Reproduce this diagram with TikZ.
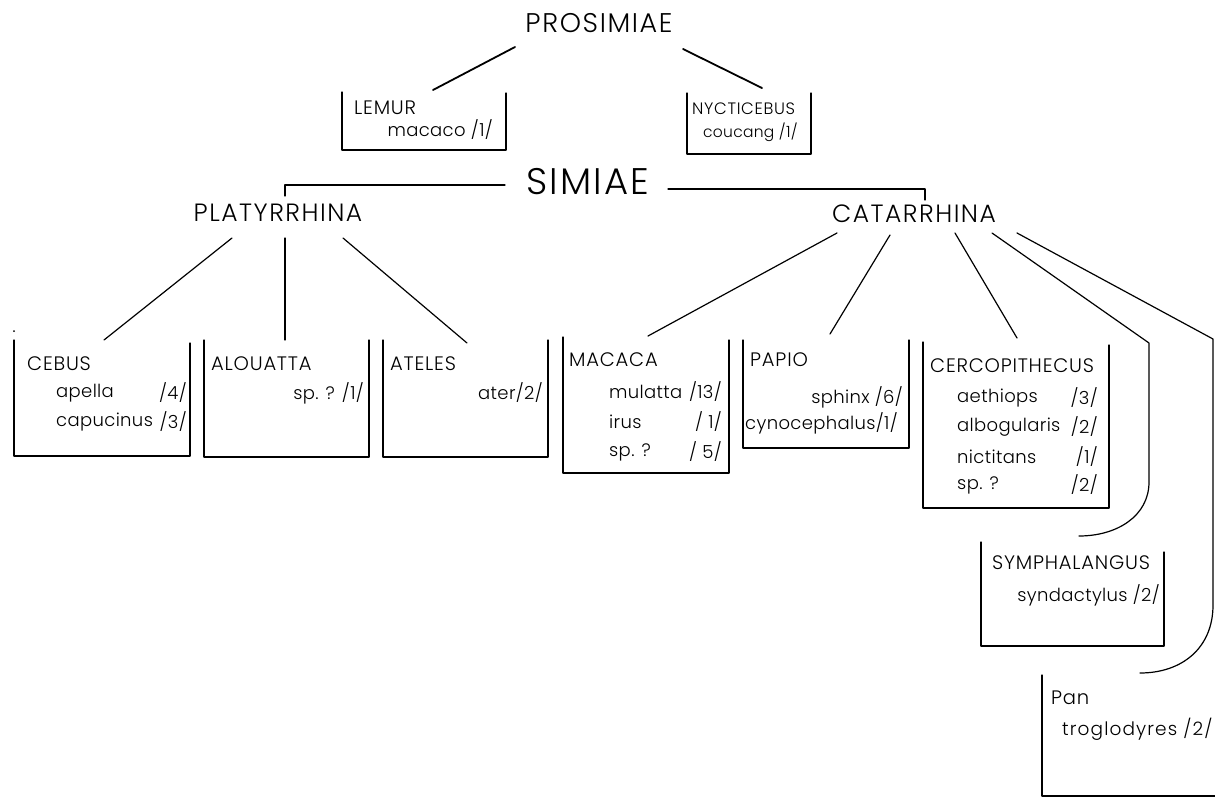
\documentclass[tikz,border=0pt]{standalone}
\usepackage{fontspec}
\IfFontExistsTF{Poppins Light}{\def\pfam{Poppins Light}}{\def\pfam{Poppins}}
\setmainfont{\pfam}
\newfontfamily\bigf[LetterSpace=6]{\pfam}
\newfontfamily\genf[LetterSpace=4]{\pfam}
\newfontfamily\spf[LetterSpace=2]{\pfam}
\newfontfamily\spwf[LetterSpace=6]{\pfam}
\begin{document}
\begin{tikzpicture}[x=1pt,y=-1pt,line cap=round,line join=round,
  conn/.style={line width=1.2pt},
  boxline/.style={line width=1.1pt},
  top/.style={font=\bigf\fontsize{27}{27}\selectfont,inner sep=0pt},
  mid/.style={font=\bigf\fontsize{25}{25}\selectfont,inner sep=0pt},
  huge/.style={font=\bigf\fontsize{37}{37}\selectfont,inner sep=0pt},
  genus/.style={font=\genf\fontsize{19.5}{19.5}\selectfont,inner sep=0pt,anchor=west},
  spl/.style={font=\spf\fontsize{18}{18}\selectfont,inner sep=0pt,anchor=west},
  spr/.style={font=\spf\fontsize{18}{18}\selectfont,inner sep=0pt,anchor=east}]
\useasboundingbox (0,0) rectangle (1215,798);
\fill[white] (0,0) rectangle (1215,798);

% ---------- top level ----------
\node[top] (pro) at (599,23) {PROSIMIAE};
\coordinate (proL) at (515,47);
\coordinate (proR) at (683,49);
\coordinate (lemT) at (433,90);
\coordinate (nycT) at (762,88);
\draw[line width=1.8pt] (proL) -- (lemT);
\draw[line width=1.8pt] (proR) -- (nycT);

% LEMUR
\draw[boxline] (342,92) -- (342,150) -- (506,150) -- (506,93);
\node[genus] (lemur) at (354,108) {LEMUR};
\node[spr] (lemsp) at (493,130) {macaco /1/};
% NYCTICEBUS
\draw[boxline] (687,93) -- (687,154) -- (811,154) -- (811,93);
\node[genus,font=\genf\fontsize{16.5}{16.5}\selectfont] (nyc) at (692,109) {NYCTICEBUS};
\node[spr,font=\spf\fontsize{15.5}{15.5}\selectfont] (nycsp) at (798,132) {coucang /1/};

% ---------- SIMIAE ----------
\node[huge] (sim) at (588,182) {SIMIAE};
\coordinate (bl1) at (505,185);
\coordinate (bl2) at (285,185);
\coordinate (bl3) at (285,196);
\coordinate (br1) at (668,189);
\coordinate (br2) at (925,189);
\coordinate (br3) at (925,200);
\draw[conn] (bl1) -- (bl2) -- (bl3);
\draw[conn] (br1) -- (br2) -- (br3);

\node[mid] (pla) at (278,213) {PLATYRRHINA};
\node[mid] (cat) at (914,214) {CATARRHINA};

% ---------- PLATYRRHINA branches ----------
\coordinate (pa1) at (232,238); \coordinate (cebT) at (104,340);
\coordinate (pa2) at (285,238); \coordinate (aloT) at (285,340);
\coordinate (pa3) at (343,238); \coordinate (ateT) at (467,343);
\draw[conn] (pa1) -- (cebT);
\draw[conn] (pa2) -- (aloT);
\draw[conn] (pa3) -- (ateT);

% CEBUS
\fill (14,331) circle (1pt);
\draw[boxline] (14,340) -- (14,456) -- (190,456) -- (190,343);
\node[genus] (ceb) at (27,364) {CEBUS};
\node[spl] (ceb1) at (56,393) {apella};
\node[spr] (ceb1n) at (187,393) {/4/};
\node[spl] (ceb2) at (56,422) {capucinus};
\node[spr] (ceb2n) at (187,422) {/3/};
% ALOUATTA
\draw[boxline] (204,340) -- (204,457) -- (369,457) -- (369,340);
\node[genus] (alo) at (211,364) {ALOUATTA};
\node[spr] (alo1) at (364,393) {sp. ? /1/};
% ATELES
\draw[boxline] (383,340) -- (383,457) -- (548,457) -- (548,340);
\node[genus] (ate) at (390,364) {ATELES};
\node[spr] (ate1) at (543,393) {ater/2/};

% ---------- CATARRHINA branches ----------
\coordinate (ca1) at (837,233); \coordinate (macT) at (648,336);
\coordinate (ca2) at (890,235); \coordinate (papT) at (830,334);
\coordinate (ca3) at (955,233); \coordinate (cerT) at (1017,338);
\coordinate (ca4) at (992,233); \coordinate (syk) at (1149,343);
\coordinate (symT) at (1079,536);
\coordinate (ca5) at (1017,233); \coordinate (pnk) at (1213,339);
\coordinate (panT) at (1140,673);
\draw[conn] (ca1) -- (macT);
\draw[conn] (ca2) -- (papT);
\draw[conn] (ca3) -- (cerT);
\draw[conn] (ca4) -- (syk) -- (1149,482) .. controls (1149,516) and (1117,536) .. (symT);
\draw[conn] (ca5) -- (pnk) -- (1213,605) .. controls (1213,648) and (1182,673) .. (panT);

% MACACA
\draw[boxline] (563,337) -- (563,473) -- (729,473) -- (729,340);
\node[genus] (mac) at (569,360) {MACACA};
\node[spl] (mac1) at (609,392) {mulatta};
\node[spr] (mac1n) at (722,392) {/13/};
\node[spl] (mac2) at (609,422) {irus};
\node[spr] (mac2n) at (722,422) {/ 1/};
\node[spl] (mac3) at (609,452) {sp. ?};
\node[spr] (mac3n) at (722,452) {/ 5/};
% PAPIO
\draw[boxline] (743,340) -- (743,448) -- (909,448) -- (909,340);
\node[genus] (pap) at (750,360) {PAPIO};
\node[spr] (pap1) at (903,397) {sphinx /6/};
\node[spl] (pap2) at (745,423) {cynocephalus/1/};
% CERCOPITHECUS
\draw[boxline] (923,342) -- (923,508) -- (1109,508) -- (1109,345);
\node[genus] (cer) at (930,366) {CERCOPITHECUS};
\node[spl] (cer1) at (957,398) {aethiops};
\node[spr] (cer1n) at (1098,398) {/3/};
\node[spl] (cer2) at (957,427) {albogularis};
\node[spr] (cer2n) at (1098,427) {/2/};
\node[spl] (cer3) at (957,457) {nictitans};
\node[spr] (cer3n) at (1098,457) {/1/};
\node[spl] (cer4) at (957,485) {sp. ?};
\node[spr] (cer4n) at (1098,485) {/2/};
% SYMPHALANGUS
\draw[boxline] (981,542) -- (981,646) -- (1164,646) -- (1164,552);
\node[genus] (sym) at (992,563) {SYMPHALANGUS};
\node[spr] (sym1) at (1160,595) {syndactylus /2/};
% Pan
\draw[boxline] (1042,675) -- (1042,796) -- (1215,796);
\node[genus] (pan) at (1051,698) {Pan};
\node[spl,font=\spwf\fontsize{18.5}{18.5}\selectfont] (pan1) at (1062,729) {troglodyres /2/};
\end{tikzpicture}
\end{document}
